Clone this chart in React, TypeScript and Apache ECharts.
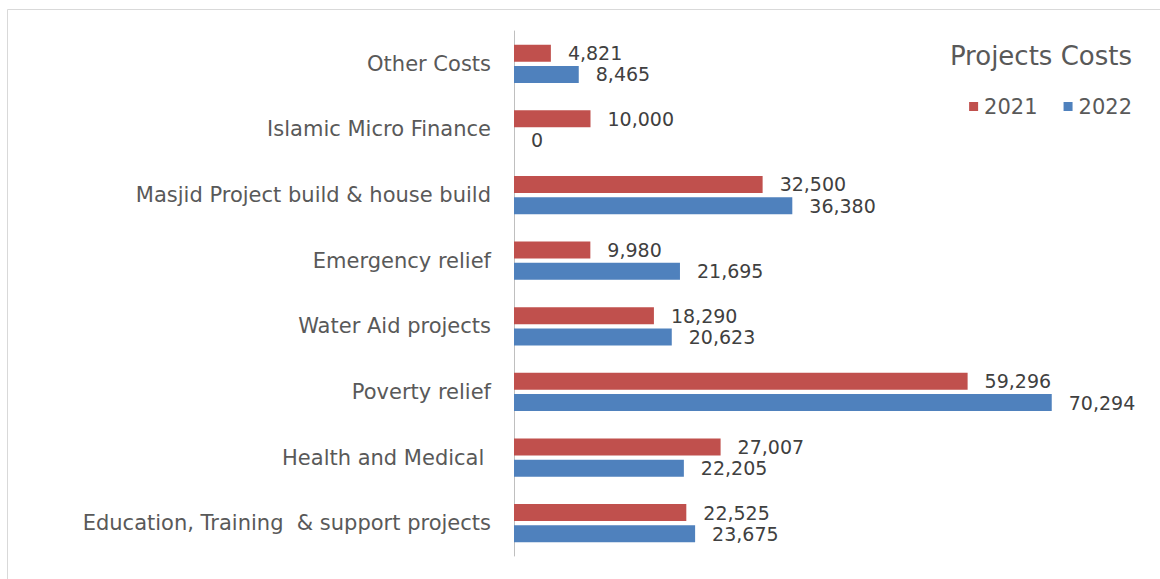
import React, { useEffect, useRef } from "react";
import * as echarts from "echarts";

const categories = [
  "Education, Training  & support projects",
  "Health and Medical ",
  "Poverty relief",
  "Water Aid projects",
  "Emergency relief",
  "Masjid Project build & house build",
  "Islamic Micro Finance",
  "Other Costs",
];
const values2021 = [22525, 27007, 59296, 18290, 9980, 32500, 10000, 4821];
const values2022 = [23675, 22205, 70294, 20623, 21695, 36380, 0, 8465];
const seriesNames = ["2021", "2022"];
const titleText = "Projects Costs";

const FONT = "DejaVu Sans";

export default function App() {
  const ref = useRef<HTMLDivElement>(null);
  useEffect(() => {
    if (!ref.current) return;
    const chart = echarts.init(ref.current, undefined, { renderer: "svg" });
    const fmt = (p: any) => Number(p.value).toLocaleString("en-US");
    const labelStyle = {
      show: true,
      position: "right",
      distance: 17,
      formatter: fmt,
      fontFamily: FONT,
      fontSize: 19,
      lineHeight: 17,
      color: "#404040",
    };
    chart.setOption({
      animation: false,
      backgroundColor: "#ffffff",
      title: {
        text: titleText,
        right: 28,
        top: 43,
        padding: 0,
        textStyle: { fontFamily: FONT, fontSize: 26, fontWeight: "normal", color: "#595959" },
      },
      legend: {
        data: seriesNames,
        right: 28,
        top: 96,
        padding: 0,
        icon: "rect",
        itemWidth: 9,
        itemHeight: 9,
        itemGap: 26,
        textStyle: { fontFamily: FONT, fontSize: 21, color: "#595959", padding: [0, 0, 0, 1] },
      },
      graphic: [
        {
          type: "rect",
          shape: { x: 7.5, y: 9.5, width: 1200, height: 600 },
          style: { fill: "none", stroke: "#d9d9d9", lineWidth: 1 },
          silent: true,
        },
      ],
      grid: { left: 514, right: 34, top: 31, bottom: 23, containLabel: false },
      xAxis: {
        type: "value",
        min: 0,
        max: 80000,
        show: false,
      },
      yAxis: {
        type: "category",
        data: categories,
        axisLine: { show: true, lineStyle: { color: "#bfbfbf", width: 1 } },
        axisTick: { show: false },
        axisLabel: { fontFamily: FONT, fontSize: 21, color: "#595959", margin: 23 },
        splitLine: { show: false },
      },
      series: [
        {
          name: seriesNames[0],
          type: "bar",
          data: values2021,
          barWidth: 17,
          barGap: "25%",
          itemStyle: { color: "#C0504D" },
          label: labelStyle,
        },
        {
          name: seriesNames[1],
          type: "bar",
          data: values2022,
          barWidth: 17,
          barGap: "25%",
          itemStyle: { color: "#4F81BD" },
          label: labelStyle,
        },
      ],
    });
    return () => chart.dispose();
  }, []);
  return (
    <div
      ref={ref}
      style={{ position: "fixed", left: 0, top: 0, width: 1160, height: 579, background: "#fff" }}
    />
  );
}
